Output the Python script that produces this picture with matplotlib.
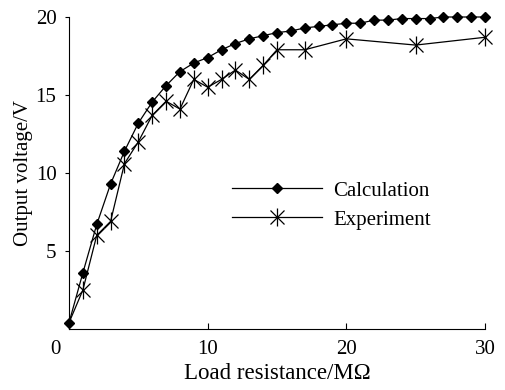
import matplotlib
matplotlib.use("Agg")
import matplotlib.pyplot as plt
from matplotlib.lines import Line2D

# Datos
resistencia = list(range(0, 31))
calculo = [0.4, 3.6, 6.7, 9.3, 11.4, 13.2, 14.55, 15.6, 16.5, 17.05, 17.4,
           17.9, 18.3, 18.6, 18.8, 19.0, 19.1, 19.3, 19.4, 19.5, 19.6,
           19.6, 19.8, 19.8, 19.9, 19.9, 19.9, 20.0, 20.0, 20.0, 20.0]

res_exp = [0, 1, 2, 3, 4, 5, 6, 7, 8, 9, 10, 11, 12, 13, 14, 15, 17, 20, 25, 30]
experimento = [0.4, 2.5, 6.0, 6.9, 10.6, 12.0, 13.7, 14.6, 14.1, 16.0, 15.5,
               16.0, 16.6, 16.0, 16.9, 17.9, 17.9, 18.6, 18.2, 18.7]

xticks = [0, 10, 20, 30]
xtick_labels = ["", "10", "20", "30"]
yticks = [5, 10, 15, 20]

plt.rcParams["font.family"] = ["Liberation Serif", "DejaVu Serif"]
plt.rcParams["font.size"] = 15

fig = plt.figure(figsize=(5.05, 3.9), dpi=100)
ax = fig.add_axes([69 / 505, 1 - 329 / 390, 416 / 505, 312 / 390])

ax.plot(resistencia, calculo, color="black", lw=0.9, marker="D", ms=5.5,
        clip_on=False, zorder=3)
ax.plot(res_exp, experimento, color="black", lw=0.9, clip_on=False, zorder=2)
# marcador tipo asterisco: barra vertical + x
ax.plot(res_exp[1:], experimento[1:], ls="none", marker="|", ms=13, mew=0.9,
        color="black", clip_on=False, zorder=2)
ax.plot(res_exp[1:], experimento[1:], ls="none", marker="x", ms=9.5, mew=0.9,
        color="black", clip_on=False, zorder=2)

ax.set_xlim(0, 30)
ax.set_ylim(0, 20)
ax.set_xticks(xticks)
ax.set_xticklabels(xtick_labels)
ax.set_yticks(yticks)
ax.spines["top"].set_visible(False)
ax.spines["right"].set_visible(False)
ax.tick_params(axis="x", direction="in", length=4, pad=8)
ax.tick_params(axis="y", direction="out", length=3, pad=6)
ax.set_xlabel("Load resistance/M\u03a9", fontsize=16.5, labelpad=3)
ax.set_ylabel("Output voltage/V", labelpad=2)

# el "0" del origen va un poco a la izquierda, como en el original
ax.annotate("0", xy=(0, 0), xycoords="data", xytext=(-9.5, -8),
            textcoords="offset points", ha="center", va="top", fontsize=15)

h_calc = Line2D([], [], color="black", lw=0.9, marker="D", ms=5.5)
h_exp1 = Line2D([], [], color="black", lw=0.9, marker="|", ms=13, mew=0.9)
h_exp2 = Line2D([], [], color="none", marker="x", ms=9.5, mew=0.9,
                markeredgecolor="black")
ax.legend([h_calc, (h_exp1, h_exp2)], ["Calculation", "Experiment"],
          loc="upper left", bbox_to_anchor=(0.392, 0.474), frameon=False,
          borderpad=0, borderaxespad=0, handlelength=4.3, handletextpad=0.55,
          labelspacing=0.45)

fig.savefig("out.png", dpi=100)
